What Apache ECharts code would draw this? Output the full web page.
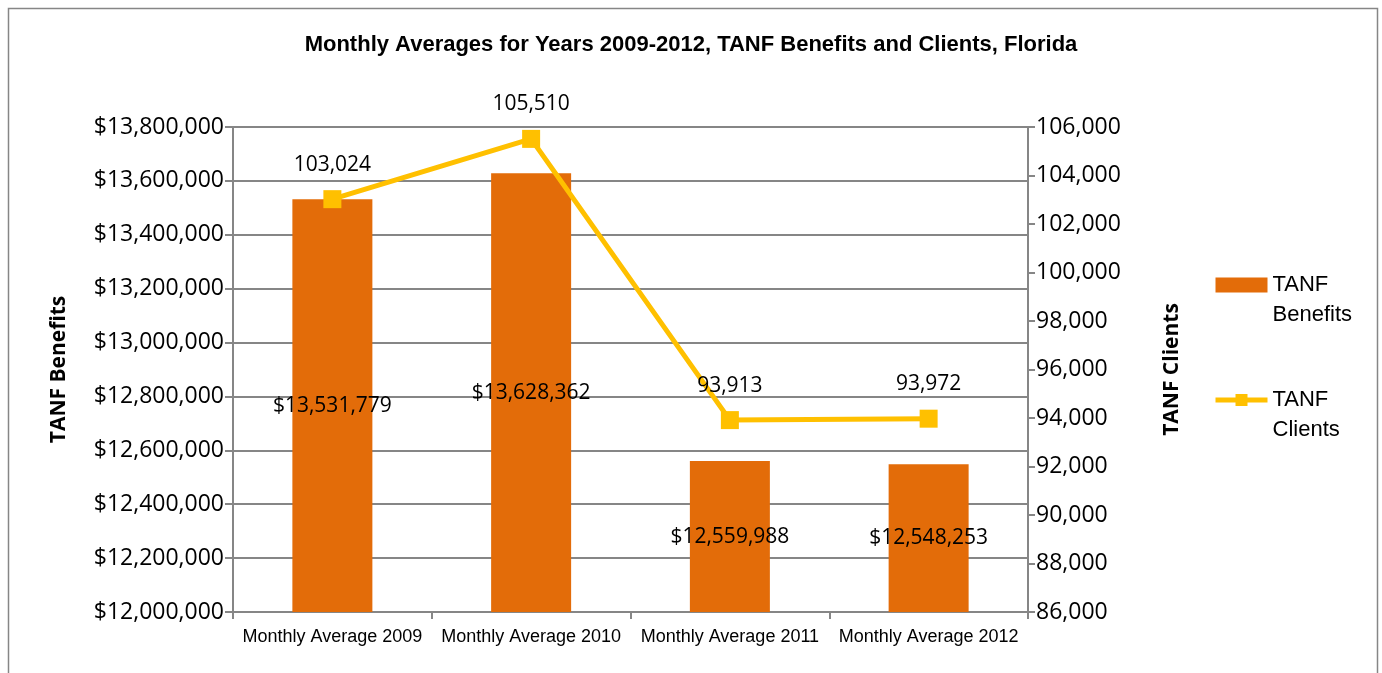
<!DOCTYPE html>
<html>
<head>
<meta charset="utf-8">
<script src="https://cdn.jsdelivr.net/npm/echarts@6/dist/echarts.min.js"></script>
<style>
html,body{margin:0;padding:0;background:#fff;}
#main{width:1382px;height:673px;}
</style>
</head>
<body>
<div id="main"></div>
<script>
// categories and values
var categories = ['Monthly Average 2009', 'Monthly Average 2010', 'Monthly Average 2011', 'Monthly Average 2012'];
var benefits = [13531779, 13628362, 12559988, 12548253];
var clients = [103024, 105510, 93913, 93972];

var chart = echarts.init(document.getElementById('main'));

function commas(v) {
    return String(v).replace(/\B(?=(\d{3})+(?!\d))/g, ',');
}

var narrow = '"Liberation Sans Narrow", "Arial Narrow", sans-serif';
var sans = '"Open Sans", sans-serif';

option = {
    animation: false,
    title: {
        text: 'Monthly Averages for Years 2009-2012, TANF Benefits and Clients, Florida',
        left: 'center',
        top: 29,
        textStyle: {
            fontFamily: narrow,
            fontWeight: 'bold',
            fontSize: 22,
            color: '#000'
        }
    },
    graphic: [{
        type: 'rect',
        shape: {x: 8.5, y: 8.5, width: 1369, height: 700},
        style: {fill: 'none', stroke: '#868686', lineWidth: 1.5},
        silent: true
    }],
    color: ['#E36C09', '#FFC000'],
    legend: {
        orient: 'vertical',
        left: 1213,
        top: 240,
        padding: 0,
        itemWidth: 52,
        itemHeight: 15,
        itemGap: 25,
        data: [
            {name: 'TANF Benefits', icon: 'rect'},
            {name: 'TANF Clients', lineStyle: {width: 5, color: '#FFC000'}}
        ],
        formatter: function (name) {
            return ' \n' + name.replace(' ', '\n');
        },
        textStyle: {
            fontFamily: narrow,
            fontSize: 22,
            lineHeight: 30,
            color: '#000'
        }
    },
    grid: {
        left: 233,
        right: 354,
        top: 127,
        bottom: 61
    },
    xAxis: {
        type: 'category',
        data: categories,
        axisLine: {lineStyle: {color: '#868686', width: 2}},
        axisTick: {show: true, length: 7, lineStyle: {color: '#868686', width: 2}},
        axisLabel: {
            fontFamily: narrow,
            fontSize: 18,
            color: '#000',
            margin: 16,
            interval: 0
        }
    },
    yAxis: [{
        type: 'value',
        min: 12000000,
        max: 13800000,
        interval: 200000,
        name: 'TANF Benefits',
        nameLocation: 'middle',
        nameRotate: 90,
        nameGap: 163,
        nameTextStyle: {fontFamily: sans, fontWeight: 'bold', fontSize: 21, color: '#000'},
        axisLine: {show: true, lineStyle: {color: '#868686', width: 2}},
        axisTick: {show: true, length: 8, lineStyle: {color: '#868686', width: 2}},
        splitLine: {lineStyle: {color: '#868686', width: 2}},
        axisLabel: {
            fontFamily: sans,
            fontSize: 23,
            color: '#000',
            margin: 9,
            formatter: function (v) { return '$' + commas(v); }
        }
    }, {
        type: 'value',
        min: 86000,
        max: 106000,
        interval: 2000,
        name: 'TANF Clients',
        nameLocation: 'middle',
        nameRotate: 90,
        nameGap: 134,
        nameTextStyle: {fontFamily: sans, fontWeight: 'bold', fontSize: 21, color: '#000'},
        axisLine: {show: true, lineStyle: {color: '#868686', width: 2}},
        axisTick: {show: true, length: 7, lineStyle: {color: '#868686', width: 2}},
        splitLine: {show: false},
        axisLabel: {
            fontFamily: sans,
            fontSize: 23,
            color: '#000',
            margin: 8,
            formatter: function (v) { return commas(v); }
        }
    }],
    series: [{
        name: 'TANF Benefits',
        type: 'bar',
        yAxisIndex: 0,
        barWidth: 80,
        data: benefits,
        itemStyle: {color: '#E36C09'},
        label: {
            show: true,
            position: 'inside',
            fontFamily: sans,
            fontSize: 21,
            color: '#000',
            formatter: function (p) { return '$' + commas(p.value); }
        }
    }, {
        name: 'TANF Clients',
        type: 'line',
        yAxisIndex: 1,
        data: clients,
        symbol: 'rect',
        symbolSize: 18,
        lineStyle: {color: '#FFC000', width: 5},
        itemStyle: {color: '#FFC000'},
        label: {
            show: true,
            position: 'top',
            distance: 15,
            fontFamily: sans,
            fontSize: 21,
            color: '#000',
            formatter: function (p) { return commas(p.value); }
        }
    }]
};
chart.setOption(option);
</script>
</body>
</html>
